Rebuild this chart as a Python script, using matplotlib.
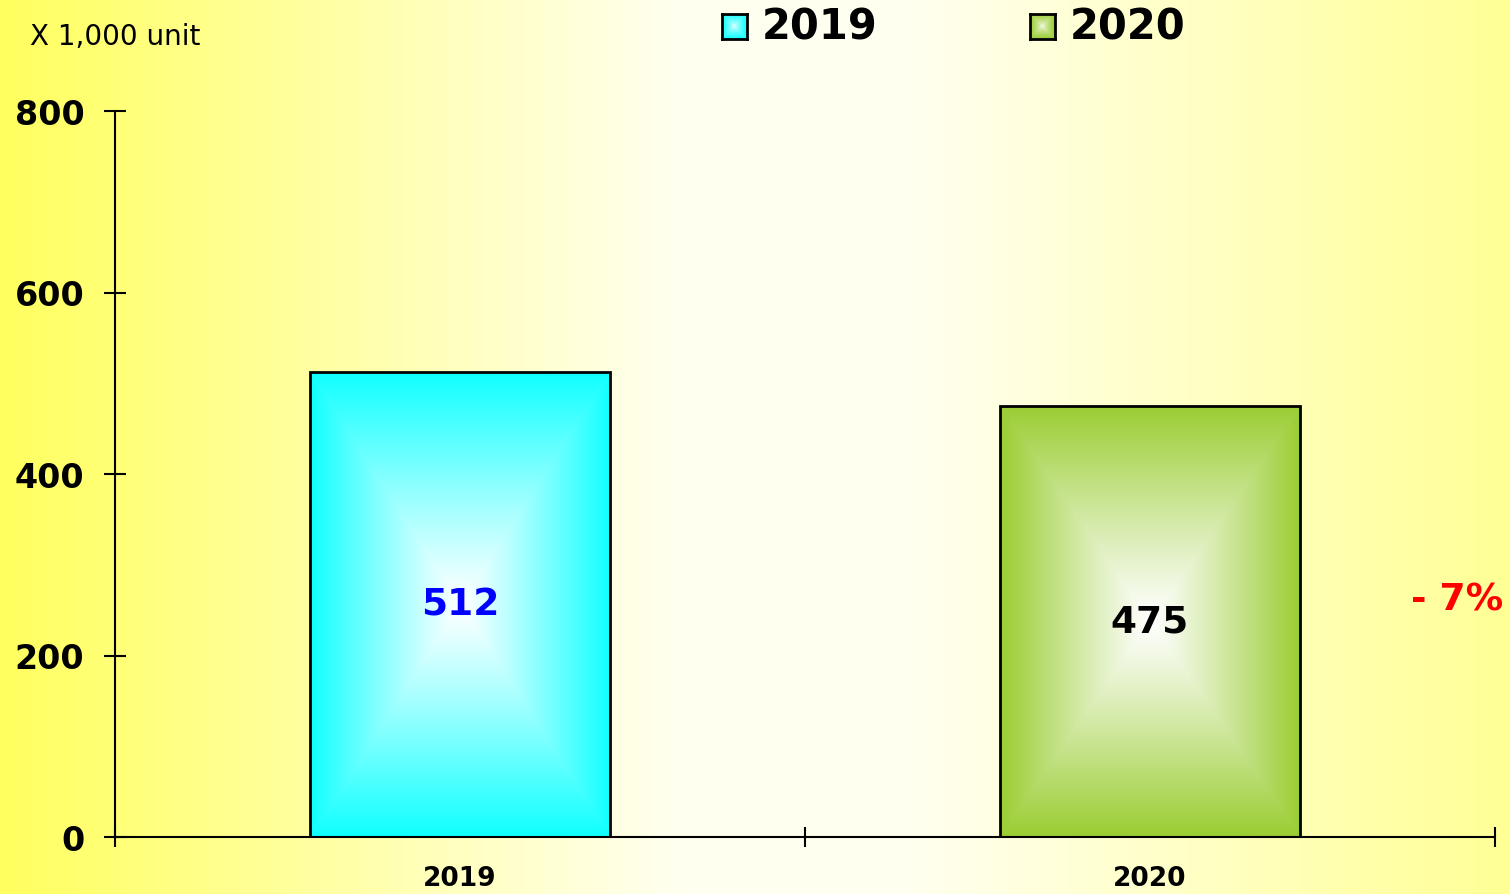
import numpy as np
import matplotlib
matplotlib.use("Agg")
import matplotlib.pyplot as plt
from matplotlib.colors import to_rgb

categories = ["2019", "2020"]
values = [512, 475]
bar_colors = ["#10FFFF", "#9ACD32"]
label_colors = ["#0000FF", "#000000"]
yticks = [0, 200, 400, 600, 800]
change_label = "- 7%"
unit_label = "X 1,000 unit"

W, H = 1510, 895
fig = plt.figure(figsize=(W / 100, H / 100), dpi=100)

# background gradient
bg = fig.add_axes([0, 0, 1, 1], zorder=-10)
bg.axis("off")
xs = np.linspace(0, 1, 600)
stops_x = [0.0, 0.45, 0.6, 1.0]
stops_b = [95, 240, 240, 150]
b = np.interp(xs, stops_x, stops_b)
img = np.zeros((2, len(xs), 3))
img[..., 0] = 1.0
img[..., 1] = 1.0
img[..., 2] = b / 255.0
bg.imshow(img, aspect="auto", extent=[0, 1, 0, 1])
bg.set_xlim(0, 1); bg.set_ylim(0, 1)

ax = fig.add_axes([115 / W, (H - 838) / H, (1495 - 115) / W, (838 - 112) / H])
ax.set_facecolor("none")
x = np.arange(len(categories))


def rect_gradient(color, nx=300, ny=300, power=1.0):
    u = np.linspace(-1, 1, nx)
    v = np.linspace(-1, 1, ny)
    U, V = np.meshgrid(u, v)
    t = np.maximum(np.abs(U), np.abs(V)) ** power
    c = np.array(to_rgb(color))
    out = (1 - t[..., None]) * np.ones(3) + t[..., None] * c
    return np.clip(out, 0, 1)


width = 0.435
bars = ax.bar(x, values, width=width, facecolor="none", edgecolor="black", linewidth=2, zorder=3)
for rect, col, val, lc in zip(bars, bar_colors, values, label_colors):
    x0, y0 = rect.get_x(), rect.get_y()
    w, h = rect.get_width(), rect.get_height()
    im = ax.imshow(rect_gradient(col, power=1.1), extent=[x0, x0 + w, y0, y0 + h],
                   aspect="auto", zorder=2, interpolation="bilinear")
    im.set_clip_path(rect)
    ax.text(x0 + w / 2, val / 2, str(val), ha="center", va="center",
            fontsize=27, fontweight="bold", color=lc, zorder=5)

ax.set_aspect("auto")
ax.set_xlim(-0.5, 1.5)
ax.set_ylim(0, 800)

ax.set_xticks([-0.5, 0.5, 1.5])
ax.set_xticklabels([])
ax.set_xticks(x, minor=True)
ax.set_xticklabels(categories, minor=True, fontsize=19, fontweight="bold")
ax.tick_params(axis="x", which="major", direction="inout", length=14, width=1.5)
ax.tick_params(axis="x", which="minor", length=0, pad=20)
ax.set_yticks(yticks)
ax.set_yticklabels([str(t) for t in yticks], fontsize=24, fontweight="bold")
ax.tick_params(axis="y", direction="inout", length=16, width=1.5, pad=14)

for s in ["top", "right"]:
    ax.spines[s].set_visible(False)
for s in ["left", "bottom"]:
    ax.spines[s].set_linewidth(1.5)

ax.annotate(change_label, xy=(1.5, 262), xytext=(8, 0), textcoords="offset pixels",
            ha="right", va="center", fontsize=27, fontweight="bold", color="red",
            annotation_clip=False)

fig.text(30 / W, 1 - 37 / H, unit_label, fontsize=20, ha="left", va="center")

# legend
leg_x = [722, 1030]
leg_text_x = [762, 1070]
for lx, tx, col, cat in zip(leg_x, leg_text_x, bar_colors, categories):
    la = fig.add_axes([lx / W, 1 - 40 / H, 25 / W, 25 / H])
    la.imshow(rect_gradient(col, 40, 40, power=0.6), aspect="auto", extent=[0, 1, 0, 1])
    la.set_xticks([]); la.set_yticks([])
    for sp in la.spines.values():
        sp.set_linewidth(2)
    fig.text(tx / W, 1 - 27 / H, cat, fontsize=30, fontweight="bold", ha="left", va="center")

fig.savefig("out.png", dpi=100)
